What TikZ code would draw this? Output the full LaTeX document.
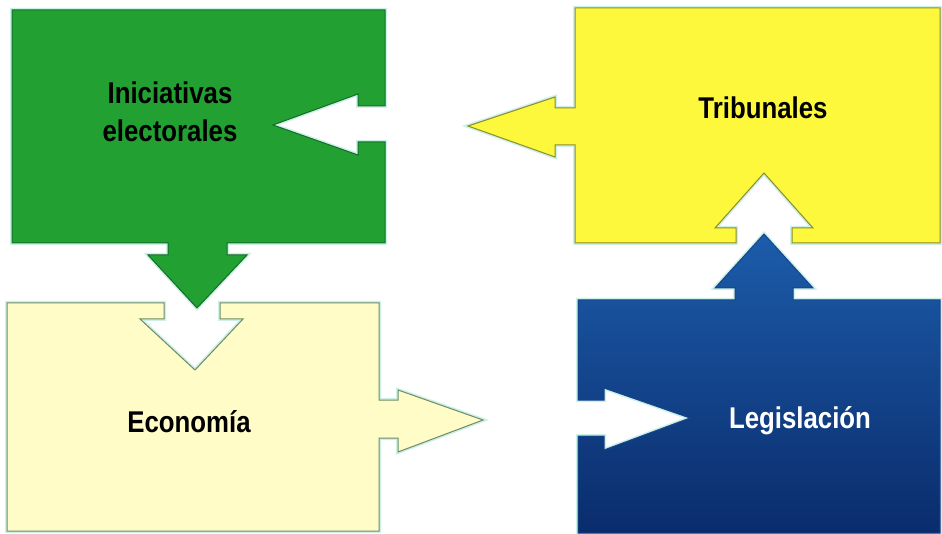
\documentclass[tikz,border=0pt]{standalone}
\usepackage{fontspec}
\setmainfont{Liberation Sans}
\usetikzlibrary{shadings}
\definecolor{grn}{RGB}{34,160,50}
\definecolor{grnedge}{RGB}{20,110,38}
\definecolor{yel}{RGB}{253,248,60}
\definecolor{yeledge}{RGB}{140,140,40}
\definecolor{crm}{RGB}{255,252,200}
\definecolor{crmedge}{RGB}{110,140,100}
\definecolor{bluetop}{RGB}{28,92,170}
\definecolor{bluebot}{RGB}{10,44,108}
\definecolor{bluedge}{RGB}{20,70,140}
\definecolor{glow}{RGB}{205,240,232}
\newcommand{\narrow}[1]{\scalebox{0.86}[1]{#1}}
\tikzset{
  glowline/.style={draw=glow,line width=4pt,line join=miter},
  shapeedge/.style={line width=1pt,line join=miter},
  lbl/.style={font=\fontsize{30}{38}\selectfont\bfseries,align=center,inner sep=0pt}
}
\begin{document}
\begin{tikzpicture}[x=1pt,y=-1pt]
\useasboundingbox[fill=white] (0,0) rectangle (942,534);
% green box
\def\greenpath{(12,10) -- (385,10) -- (385,106) -- (358,106) -- (358,94) -- (273,125) -- (358,155) -- (358,142) -- (385,142) -- (385,243) -- (227,243) -- (227,255) -- (247,255) -- (197,308) -- (148,255) -- (168,255) -- (168,243) -- (12,243) -- cycle}
\path[glowline] \greenpath;
\path[fill=grn,draw=grnedge,shapeedge] \greenpath;
% yellow box
\def\yellowpath{(575,8) -- (940,8) -- (940,243) -- (792,243) -- (792,228) -- (813,228) -- (764,173) -- (715,228) -- (736,228) -- (736,243) -- (575,243) -- (575,145) -- (555,145) -- (555,157) -- (468,126) -- (555,97) -- (555,108) -- (575,108) -- cycle}
\path[glowline] \yellowpath;
\path[fill=yel,draw=yeledge,shapeedge] \yellowpath;
% cream box
\def\creampath{(7,303) -- (164,303) -- (164,319) -- (140,319) -- (195,370) -- (243,319) -- (220,319) -- (220,303) -- (379,303) -- (379,400) -- (398,400) -- (398,390) -- (483,420) -- (398,452) -- (398,438) -- (379,438) -- (379,531) -- (7,531) -- cycle}
\path[glowline] \creampath;
\path[fill=crm,draw=crmedge,shapeedge] \creampath;
% blue box
\def\bluepath{(578,300) -- (735,300) -- (735,288) -- (715,288) -- (764,234) -- (813,288) -- (793,288) -- (793,300) -- (940,300) -- (940,533) -- (578,533) -- (578,436) -- (604,436) -- (604,450) -- (690,418) -- (604,388) -- (604,400) -- (578,400) -- cycle}
\path[glowline] \bluepath;
\path[top color=bluetop,bottom color=bluebot,draw=bluedge,shapeedge] \bluepath;
% labels
\node[lbl] (ini) at (170,112) {\narrow{Iniciativas}\\\narrow{electorales}};
\node[lbl] (tri) at (763,108) {\narrow{Tribunales}};
\node[lbl] (eco) at (189,422) {\narrow{Economía}};
\node[lbl,text=white] (leg) at (800,421) {\narrow{Legislación}};
\end{tikzpicture}
\end{document}
